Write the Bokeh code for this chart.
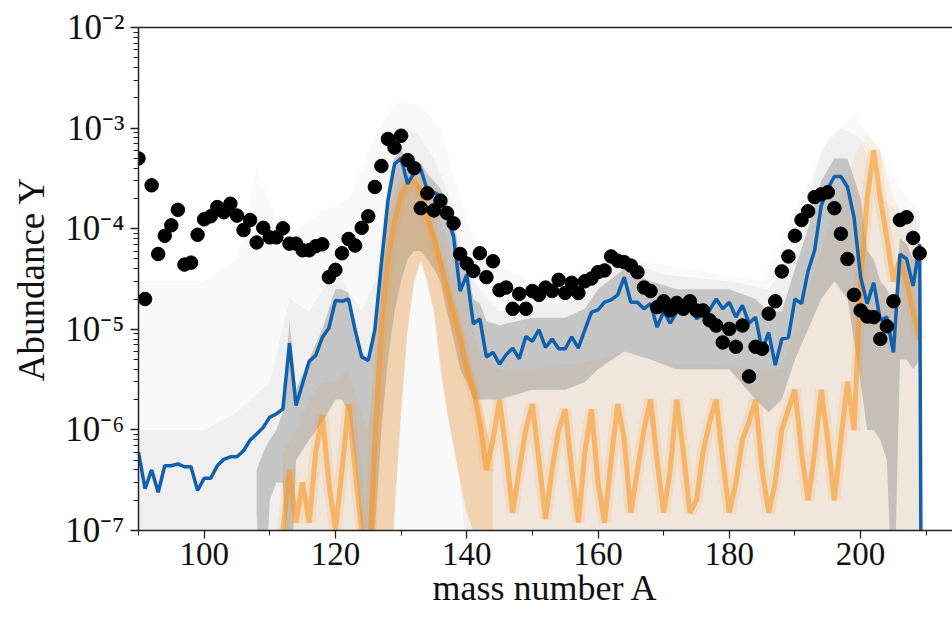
from bokeh.plotting import figure
from bokeh.models import (ColumnDataSource, CustomJSTickFormatter, FixedTicker,
                          LinearAxis, Range1d)
from bokeh.embed import file_html
from bokeh.resources import INLINE

# ---------------- data ----------------
mass_A = list(range(90, 211))
model_Y = [
    6.0e-7, 2.6e-7, 4.0e-7, 2.4e-7, 4.4e-7, 4.4e-7, 4.6e-7, 4.3e-7, 4.3e-7, 2.5e-7,   # 90-99
    3.3e-7, 3.3e-7, 4.4e-7, 5.1e-7, 5.4e-7, 5.4e-7, 6.2e-7, 7.9e-7, 9.1e-7, 1.06e-6,  # 100-109
    1.34e-6, 1.44e-6, 1.62e-6, 7.3e-6, 1.75e-6, 2.9e-6, 4.8e-6, 5.5e-6, 8.3e-6, 1.03e-5,  # 110-119
    1.93e-5, 1.9e-5, 2.0e-5, 9.8e-6, 5.3e-6, 4.9e-6, 9.8e-6, 4.5e-5, 1.9e-4, 4.4e-4,  # 120-129
    5.0e-4, 2.8e-4, 3.6e-4, 3.9e-4, 2.4e-4, 2.3e-4, 2.1e-4, 1.35e-4, 8.3e-5, 2.4e-5,  # 130-139
    3.5e-5, 1.13e-5, 1.27e-5, 5.3e-6, 5.9e-6, 4.5e-6, 5.6e-6, 6.5e-6, 5.1e-6, 8.5e-6,  # 140-149
    7.6e-6, 9.9e-6, 6.6e-6, 8.0e-6, 6.4e-6, 6.4e-6, 8.4e-6, 6.5e-6, 9.9e-6, 1.48e-5,  # 150-159
    1.56e-5, 1.86e-5, 1.96e-5, 2.2e-5, 3.3e-5, 1.86e-5, 1.86e-5, 1.6e-5, 1.8e-5, 1.05e-5,  # 160-169
    1.51e-5, 1.15e-5, 1.48e-5, 1.6e-5, 1.85e-5, 1.27e-5, 1.4e-5, 1.55e-5, 2.0e-5, 1.6e-5,  # 170-179
    1.86e-5, 1.32e-5, 1.73e-5, 1.15e-5, 1.32e-5, 6.2e-6, 9.3e-6, 4.4e-6, 8.0e-6, 8.3e-6,  # 180-189
    2.0e-5, 1.8e-5, 3.8e-5, 6.1e-5, 1.7e-4, 2.5e-4, 3.3e-4, 3.3e-4, 2.6e-4, 1.3e-4,  # 190-199
    3.3e-5, 1.8e-5, 2.9e-5, 1.23e-5, 1.32e-5, 5.9e-6, 5.6e-5, 5.0e-5, 2.7e-5, 7.0e-5,  # 200-209
    1e-20,                                                                              # 210
]

solar_A = list(range(90, 210))
solar_Y = [
    5.0e-4, 2.0e-5, 2.7e-4, 5.6e-5, 8.5e-5, 1.08e-4, 1.54e-4, 4.4e-5, 4.6e-5, 8.7e-5,  # 90-99
    1.24e-4, 1.33e-4, 1.64e-4, 1.46e-4, 1.77e-4, 1.35e-4, 9.7e-5, 1.22e-4, 7.3e-5, 1.02e-4,  # 100-109
    8.2e-5, 8.2e-5, 1.01e-4, 7.1e-5, 7.1e-5, 6.1e-5, 6.1e-5, 6.7e-5, 7.0e-5, 3.3e-5,  # 110-119
    3.9e-5, 5.7e-5, 7.9e-5, 6.8e-5, 1.02e-4, 1.33e-4, 2.6e-4, 4.2e-4, 7.8e-4, 6.4e-4,  # 120-129
    8.4e-4, 4.8e-4, 4.0e-4, 1.6e-4, 2.25e-4, 1.52e-4, 1.9e-4, 1.43e-4, 1.13e-4, 5.6e-5,  # 130-139
    4.5e-5, 3.8e-5, 5.7e-5, 3.3e-5, 4.75e-5, 2.45e-5, 2.6e-5, 1.6e-5, 2.25e-5, 1.6e-5,  # 140-149
    2.4e-5, 2.2e-5, 2.6e-5, 2.4e-5, 3.1e-5, 2.3e-5, 2.9e-5, 2.3e-5, 3.0e-5, 3.2e-5,  # 150-159
    3.7e-5, 3.85e-5, 5.3e-5, 4.8e-5, 4.65e-5, 4.3e-5, 3.7e-5, 2.6e-5, 2.4e-5, 1.66e-5,  # 160-169
    1.9e-5, 1.54e-5, 1.83e-5, 1.6e-5, 1.9e-5, 1.54e-5, 1.54e-5, 1.23e-5, 1.09e-5, 7.4e-6,  # 170-179
    1.01e-5, 6.7e-6, 1.09e-5, 3.4e-6, 6.7e-6, 6.4e-6, 1.43e-5, 1.9e-5, 3.76e-5, 5.3e-5,  # 180-189
    8.5e-5, 1.22e-4, 1.49e-4, 2.06e-4, 2.2e-4, 2.3e-4, 1.6e-4, 8.9e-5, 5.0e-5, 2.2e-5,  # 190-199
    1.54e-5, 1.34e-5, 1.32e-5, 8.0e-6, 1.07e-5, 1.9e-5, 1.22e-4, 1.3e-4, 8.1e-5, 5.7e-5,  # 200-209
]

# envelope of the very faint grey model curves
gray_faint_A = [90, 100, 105, 108, 112, 118, 122, 126, 129, 133, 136, 139, 142, 150,
                165, 185, 190, 195, 199, 203, 207, 209]
gray_faint_lo = [1e-8] * len(gray_faint_A)
gray_faint_hi = [3e-5, 3e-5, 5e-5, 4e-4, 8e-5, 1.5e-4, 2e-4, 8e-4, 1.8e-3, 1.7e-3, 1e-3, 2e-4,
                 5e-5, 3e-5, 5e-5, 3e-5, 1.5e-4, 8e-4, 1.4e-3, 6e-4, 2e-4, 1.5e-4]

# envelope of the light grey model curves
gray_mid_A = [90, 95, 100, 105, 110, 113, 116, 120, 124, 126, 128, 129, 130, 131, 132, 133,
              135, 137, 139, 141, 145, 150, 155, 160, 164, 170, 180, 186, 190, 194, 197,
              200, 203, 206, 209]
gray_mid_lo = [1e-8, 1e-8, 1e-8, 1e-8, 1e-8, 1e-8, 1e-8, 1e-8, 1e-8, 1e-8, 1e-8, 1.5e-7,
               1.5e-6, 1e-5, 3e-5, 4.8e-5, 1.5e-5, 1.5e-6, 3e-7, 1e-8, 1e-8, 1e-8, 1e-8,
               1e-8, 1e-8, 1e-8, 1e-8, 1e-8, 1e-8, 1e-8, 1e-8, 1e-8, 1e-8, 1e-8, 1e-8]
gray_mid_hi = [1e-6, 1e-6, 1e-6, 1.5e-6, 3e-6, 2e-5, 1.5e-5, 4e-5, 1.5e-5, 3e-5, 3e-4, 6e-4,
               1e-3, 1e-3, 9e-4, 8e-4, 5e-4, 2.5e-4, 8e-5, 3e-5, 1.5e-5, 1.8e-5, 1.8e-5,
               3e-5, 5e-5, 3.5e-5, 3e-5, 2.5e-5, 6e-5, 6e-4, 1e-3, 8e-4, 2e-4, 1.5e-4, 1.2e-4]

# envelope of the dense grey model curves
gray_core_A = [108, 109, 110, 111, 112, 113, 114, 116, 118, 120, 121, 122, 123, 124, 125,
               126, 127, 128, 129, 130, 131, 132, 133, 134, 135, 136, 137, 138, 139, 140,
               141, 142, 143, 145, 150, 155, 158, 160, 164, 168, 172, 176, 180, 184, 186,
               188, 190, 192, 194, 196, 198, 200, 201, 202, 203, 204, 205, 206, 207, 208, 209]
gray_core_lo = [1.5e-7, 1e-8, 2e-7, 3e-7, 3e-7, 1e-8, 5e-7, 8e-7, 1.2e-6, 2e-6, 2e-6, 1.5e-6,
                5e-7, 1e-7, 1e-8, 1e-7, 1e-6, 5e-6, 1.5e-5, 3e-5, 5e-5, 6e-5, 6e-5, 5e-5,
                4e-5, 3e-5, 1.5e-5, 8e-6, 4e-6, 3e-6, 2e-6, 2e-6, 2e-6, 2e-6, 2.5e-6,
                2.5e-6, 3e-6, 4e-6, 6e-6, 5e-6, 4e-6, 4e-6, 4e-6, 2e-6, 1.5e-6, 2e-6, 5e-6,
                1e-5, 2e-5, 3e-5, 2e-5, 3e-6, 1e-6, 1e-6, 8e-7, 5e-7, 1e-8, 5e-6, 5e-6,
                4e-6, 5e-6]
gray_core_hi = [4e-7, 6e-7, 8e-7, 1e-6, 1.5e-6, 1.2e-5, 2.5e-6, 5e-6, 1e-5, 2.5e-5, 2.5e-5,
                2.3e-5, 1.2e-5, 6e-6, 5e-6, 1.2e-5, 6e-5, 2.5e-4, 5e-4, 6e-4, 5e-4, 4.5e-4,
                4.5e-4, 3.5e-4, 3e-4, 2.5e-4, 1.8e-4, 1.2e-4, 5e-5, 4.5e-5, 2e-5, 1.8e-5,
                1.2e-5, 1.1e-5, 1.3e-5, 1.3e-5, 1.6e-5, 2.5e-5, 4e-5, 3e-5, 2.5e-5, 2.5e-5,
                2.5e-5, 2e-5, 1.5e-5, 1.5e-5, 4e-5, 1e-4, 3e-4, 5e-4, 5e-4, 2e-4, 6e-5,
                5e-5, 3e-5, 2.5e-5, 1.5e-5, 8e-5, 7e-5, 5e-5, 8e-5]

# envelope of the pale orange model curves
orange_band_A = [112, 114, 116, 118, 120, 122, 124, 125, 126, 127, 128, 129, 130, 131, 132,
                 133, 134, 135, 136, 137, 138, 139, 140, 141, 142, 145, 150, 155, 160, 164,
                 168, 172, 178, 184, 188, 190, 193, 196, 199, 201, 203, 205, 207, 209]
orange_band_lo = [1e-8, 1e-8, 1e-8, 1e-8, 1e-8, 1e-8, 1e-8, 1e-8, 1e-8, 1e-8, 1e-8, 1.5e-7,
                  1.5e-6, 1e-5, 3e-5, 4.8e-5, 3e-5, 1.5e-5, 4e-6, 1.5e-6, 7e-7, 3e-7, 1.5e-7,
                  1e-7, 1e-8, 1e-8, 1e-8, 1e-8, 1e-8, 1e-8, 1e-8, 1e-8, 1e-8, 1e-8, 1e-8,
                  1e-8, 1e-8, 1e-8, 1e-8, 1e-8, 1e-8, 1e-8, 1e-8, 1e-8]
orange_band_hi = [6e-7, 1e-6, 2e-6, 3e-6, 3e-6, 4e-6, 1.5e-6, 1e-6, 4e-6, 3e-5, 1.2e-4,
                  2.5e-4, 3.5e-4, 4e-4, 4e-4, 3.5e-4, 2.5e-4, 1.8e-4, 1.2e-4, 8e-5, 5e-5,
                  3e-5, 2e-5, 1e-5, 6e-6, 4e-6, 4e-6, 4.5e-6, 5e-6, 6e-6, 5e-6, 4.5e-6, 4.5e-6,
                  4e-6, 4e-6, 1e-5, 4e-5, 1.5e-4, 5e-4, 9e-4, 6e-4, 2e-4, 1.2e-4, 6e-5]

# dense orange curves around the A~130 peak
orange_peak_A = [125, 126, 127, 128, 129, 130, 131, 132, 133, 134, 135, 136, 137, 138, 139,
                 140, 141, 142, 143, 144]
orange_peak_lo = [1e-8, 1e-8, 1e-8, 1e-8, 1.5e-7, 1.5e-6, 1e-5, 3e-5, 4.8e-5, 3e-5, 1.5e-5,
                  4e-6, 1.5e-6, 7e-7, 3e-7, 1.5e-7, 1e-7, 1e-8, 1e-8, 1e-8]
orange_peak_hi = [1e-7, 5e-7, 5e-6, 3e-5, 1e-4, 2e-4, 2.5e-4, 2.8e-4, 2.6e-4, 1.6e-4, 1e-4,
                  6e-5, 3.5e-5, 2e-5, 1.2e-5, 6e-6, 3.5e-6, 2e-6, 1e-6, 6e-7]

# dense (odd-even) orange model curve
orange_core_A = list(range(112, 210))
orange_core_Y = [
    1e-7, 4e-7, 1.2e-7, 3e-7, 1.2e-7, 6e-7, 1.4e-6, 3e-7,                          # 112-119
    1e-7, 4e-7, 1.8e-6, 4e-7, 1e-7, 3e-8, 8e-7, 1e-5, 5e-5, 1.2e-4,                 # 120-129
    2.2e-4, 2.8e-4, 3e-4, 2.4e-4, 1.3e-4, 8e-5, 4.5e-5, 2.5e-5, 1.4e-5, 8e-6,        # 130-139
    4e-6, 2.5e-6, 1.2e-6, 4e-7, 8e-7, 2e-6, 6e-7, 1.5e-7, 4e-7, 1e-6,               # 140-149
    1.8e-6, 5e-7, 1.3e-7, 4e-7, 1e-6, 1.6e-6, 4e-7, 1.2e-7, 6e-7, 1.6e-6,           # 150-159
    3e-7, 1.2e-7, 5e-7, 1.8e-6, 8e-7, 1.5e-7, 4e-7, 1e-6, 2e-6, 5e-7,               # 160-169
    1.5e-7, 4e-7, 2e-6, 6e-7, 1.5e-7, 2e-7, 6e-7, 1.2e-6, 2e-6, 5e-7,               # 170-179
    1.5e-7, 3e-7, 8e-7, 1.2e-6, 2e-6, 4e-7, 1.5e-7, 3e-7, 1e-6, 1.6e-6,             # 180-189
    2.5e-6, 6e-7, 2e-7, 6e-7, 2.5e-6, 8e-7, 2e-7, 8e-7, 3e-6, 1e-6,                 # 190-199
    3e-5, 2e-4, 6e-4, 2e-4, 8e-5, 3e-5, 5e-5, 3e-5, 1.5e-5, 8e-6,                   # 200-209
]

x_major_ticks = [100, 120, 140, 160, 180, 200]
x_minor_ticks = [90, 110, 130, 150, 170, 190, 210]
y_tick_exponents = [-7, -6, -5, -4, -3, -2]
y_tick_labels = ["10\u207b\u2077", "10\u207b\u2076", "10\u207b\u2075",
                 "10\u207b\u2074", "10\u207b\u00b3", "10\u207b\u00b2"]

# ---------------- figure ----------------
SERIF = "Liberation Serif"
INK = "#111111"

p = figure(width=952, height=618, x_range=Range1d(90, 214), y_range=Range1d(1e-7, 1e-2),
           y_axis_type="log", output_backend="svg", toolbar_location=None,
           min_border_left=138, min_border_right=0, min_border_top=27, min_border_bottom=88)
p.outline_line_color = None
p.grid.visible = False

gf = ColumnDataSource(dict(x=gray_faint_A, lo=gray_faint_lo, hi=gray_faint_hi))
gm = ColumnDataSource(dict(x=gray_mid_A, lo=gray_mid_lo, hi=gray_mid_hi))
gc = ColumnDataSource(dict(x=gray_core_A, lo=gray_core_lo, hi=gray_core_hi))
ob = ColumnDataSource(dict(x=orange_band_A, lo=orange_band_lo, hi=orange_band_hi))
opk = ColumnDataSource(dict(x=orange_peak_A, lo=orange_peak_lo, hi=orange_peak_hi))
oc = ColumnDataSource(dict(x=orange_core_A, y=orange_core_Y))
md = ColumnDataSource(dict(x=mass_A, y=model_Y))
so = ColumnDataSource(dict(x=solar_A, y=solar_Y))

p.varea(x="x", y1="lo", y2="hi", source=gf, fill_color="#000000", fill_alpha=0.025)
p.varea(x="x", y1="lo", y2="hi", source=gm, fill_color="#000000", fill_alpha=0.04)
p.varea(x="x", y1="lo", y2="hi", source=ob, fill_color="#fb9a33", fill_alpha=0.10)
p.varea(x="x", y1="lo", y2="hi", source=gc, fill_color="#6e6e6e", fill_alpha=0.32)
p.varea(x="x", y1="lo", y2="hi", source=opk, fill_color="#f7931e", fill_alpha=0.22)
p.line(x="x", y="y", source=oc, line_color="#f7931e", line_width=12, line_alpha=0.13)
p.line(x="x", y="y", source=oc, line_color="#f7931e", line_width=5, line_alpha=0.55)
p.line(x="x", y="y", source=md, line_color="#1061ad", line_width=3.5)
p.scatter(x="x", y="y", source=so, size=13.5, fill_color="black", line_color="black")

# axes
p.xaxis.ticker = FixedTicker(ticks=x_major_ticks, minor_ticks=x_minor_ticks)
y_minor = [m * 10.0 ** e for e in range(-7, -2) for m in range(2, 10)]
p.yaxis.ticker = FixedTicker(ticks=[10.0 ** e for e in y_tick_exponents], minor_ticks=y_minor)
p.yaxis.formatter = CustomJSTickFormatter(
    args=dict(exps=y_tick_exponents, labels=y_tick_labels),
    code="const e = Math.round(Math.log10(tick)); const i = exps.indexOf(e); return i >= 0 ? labels[i] : '';")

for ax in (p.xaxis[0], p.yaxis[0]):
    ax.axis_line_width = 1.5
    ax.axis_line_color = "#222222"
    ax.major_tick_line_color = "#222222"
    ax.minor_tick_line_color = "#222222"
    ax.major_tick_line_width = 1.3
    ax.minor_tick_line_width = 1.1
    ax.major_tick_out = 8
    ax.major_tick_in = 0
    ax.minor_tick_out = 5
    ax.minor_tick_in = 0
    ax.major_label_text_font = SERIF
    ax.major_label_text_color = INK
    ax.axis_label_text_font = SERIF
    ax.axis_label_text_font_style = "normal"
    ax.axis_label_text_color = INK

p.xaxis.major_label_text_font_size = "33px"
p.xaxis.major_label_standoff = 4
p.xaxis.axis_label = "mass number A"
p.xaxis.axis_label_text_font_size = "36px"
p.xaxis.axis_label_standoff = 0

p.yaxis.major_label_text_font_size = "35px"
p.yaxis.major_label_standoff = 6
p.yaxis.axis_label = "Abundance Y"
p.yaxis.axis_label_text_font_size = "37px"
p.yaxis.axis_label_standoff = 10

top = LinearAxis(ticker=FixedTicker(ticks=[]), axis_line_width=1.5, axis_line_color="#222222",
                 major_tick_out=0, minor_tick_out=0, major_label_text_font_size="0px")
p.add_layout(top, "above")

open("out.html", "w").write(file_html(p, INLINE))
